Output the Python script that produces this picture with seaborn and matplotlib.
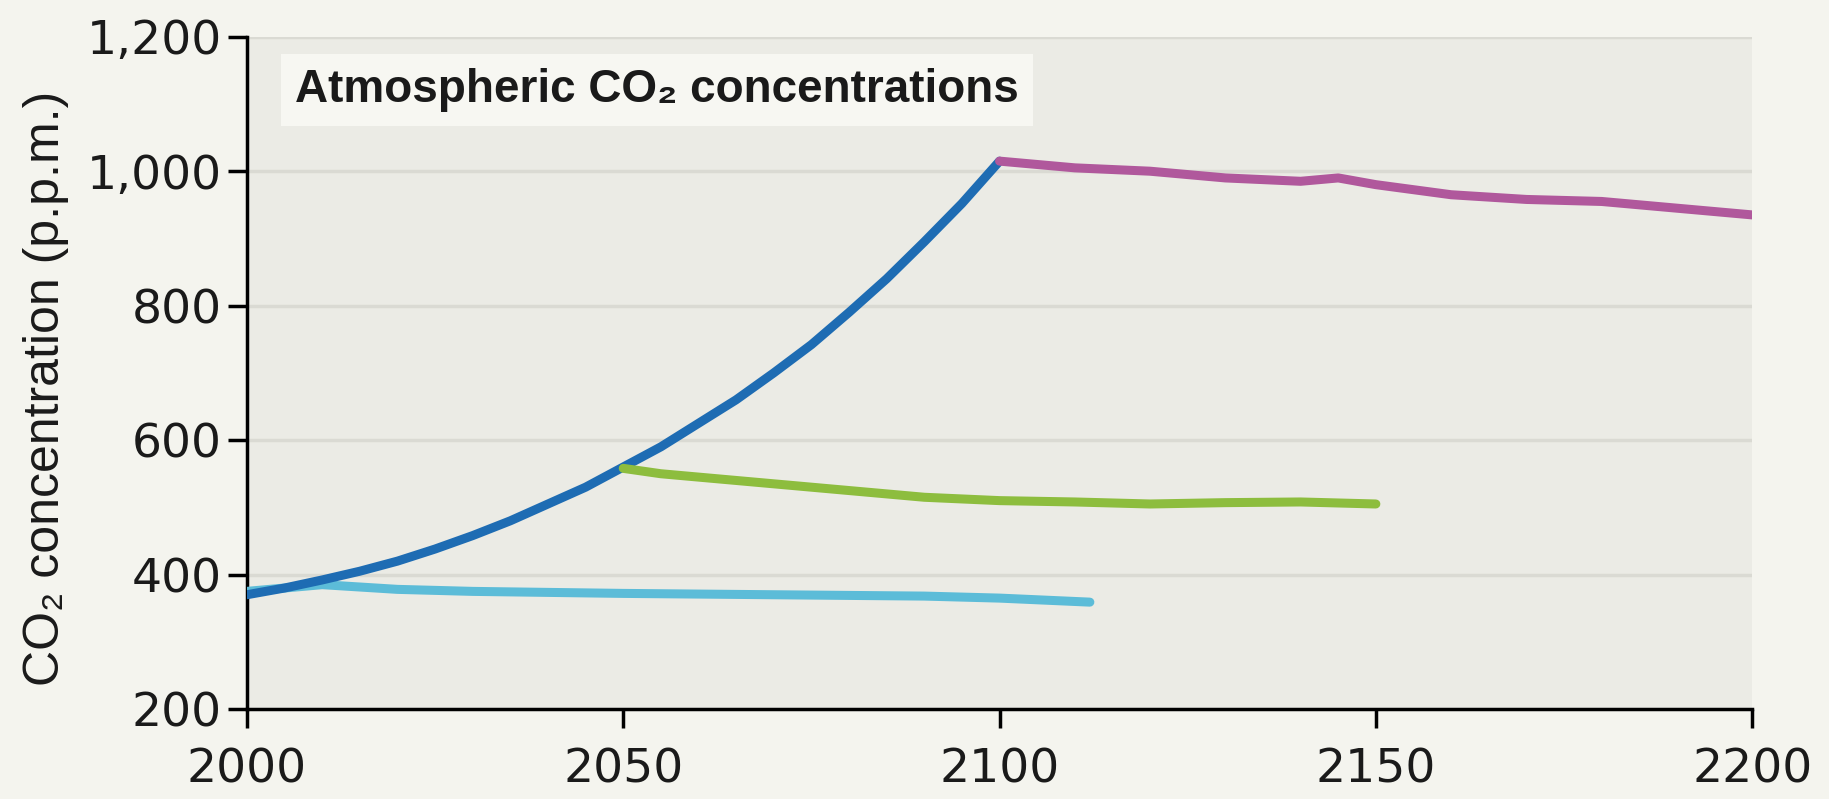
import pandas as pd
import seaborn as sns
import matplotlib.pyplot as plt
from matplotlib.ticker import FuncFormatter

# business-as-usual rise to 2100
bau_years = [2000, 2005, 2010, 2015, 2020, 2025, 2030, 2035, 2040, 2045, 2050,
             2055, 2060, 2065, 2070, 2075, 2080, 2085, 2090, 2095, 2100]
bau_ppm = [370, 380, 392, 405, 420, 438, 458, 480, 505, 530, 560,
           590, 625, 660, 700, 742, 790, 840, 895, 952, 1015]

# emissions stopped in 2000
stop2000_years = [2000, 2010, 2020, 2030, 2050, 2070, 2090, 2100, 2112]
stop2000_ppm = [375, 385, 378, 375, 372, 370, 368, 365, 359]

# emissions stopped in 2050
stop2050_years = [2050, 2055, 2060, 2070, 2080, 2090, 2100, 2110, 2120, 2130, 2140, 2150]
stop2050_ppm = [558, 550, 545, 535, 525, 515, 510, 508, 505, 507, 508, 505]

# emissions stopped in 2100
stop2100_years = [2100, 2110, 2120, 2130, 2140, 2145, 2150, 2160, 2170, 2180, 2190, 2200]
stop2100_ppm = [1015, 1005, 1000, 990, 985, 990, 980, 965, 958, 955, 945, 935]

x_ticks = [2000, 2050, 2100, 2150, 2200]
y_ticks = [200, 400, 600, 800, 1000, 1200]

sns.set_theme(style="white")
plt.rcParams['font.family'] = ['DejaVu Sans']
text_font = ['Liberation Sans', 'DejaVu Sans']

fig = plt.figure(figsize=(18.29, 7.99), dpi=100, facecolor='#f4f4ee')
ax = fig.add_axes([0.135, 0.1126, 0.823, 0.8414])
ax.set_facecolor('#ebebe5')

for yy in y_ticks[1:]:
    ax.axhline(yy, color='#dadad3', lw=2.5, zorder=0)

series = [
    (stop2000_years, stop2000_ppm, '#5cbcd8', 1),
    (bau_years, bau_ppm, '#1e6cb3', 2),
    (stop2050_years, stop2050_ppm, '#8dbd3e', 3),
    (stop2100_years, stop2100_ppm, '#b0589c', 4),
]
for xs, ys, col, z in series:
    df = pd.DataFrame({'year': xs, 'ppm': ys})
    sns.lineplot(data=df, x='year', y='ppm', color=col, lw=6.5, ax=ax,
                 zorder=z + 2, solid_capstyle='round', solid_joinstyle='round')

ax.set_xlim(2000, 2200)
ax.set_ylim(200, 1200)
ax.set_xticks(x_ticks)
ax.set_yticks(y_ticks)
ax.yaxis.set_major_formatter(FuncFormatter(lambda v, p: f"{int(v):,}"))
ax.tick_params(axis='both', direction='out', length=14, width=2.5, color='black',
               labelsize=34, labelcolor='#1a1a1a', left=True, bottom=True)
ax.tick_params(axis='x', pad=14)
ax.tick_params(axis='y', pad=4)

for side in ['top', 'right']:
    ax.spines[side].set_visible(False)
for side in ['left', 'bottom']:
    ax.spines[side].set_color('black')
    ax.spines[side].set_linewidth(2.5)

ax.set_xlabel('')
ax.set_ylabel('')
fig.text(46 / 1829, 1 - 388 / 799, 'CO₂ concentration (p.p.m.)', rotation=90,
         fontsize=36, family=text_font, color='#1a1a1a', ha='center', va='center')

ax.text(0.032, 0.903, 'Atmospheric CO₂ concentrations', transform=ax.transAxes,
        fontsize=33, fontweight='bold', family=text_font, color='#1a1a1a',
        va='baseline', ha='left',
        bbox=dict(boxstyle='square,pad=0.3', fc='#f7f7f2', ec='none'), zorder=10)

fig.savefig('out.png', dpi=100, facecolor=fig.get_facecolor())
